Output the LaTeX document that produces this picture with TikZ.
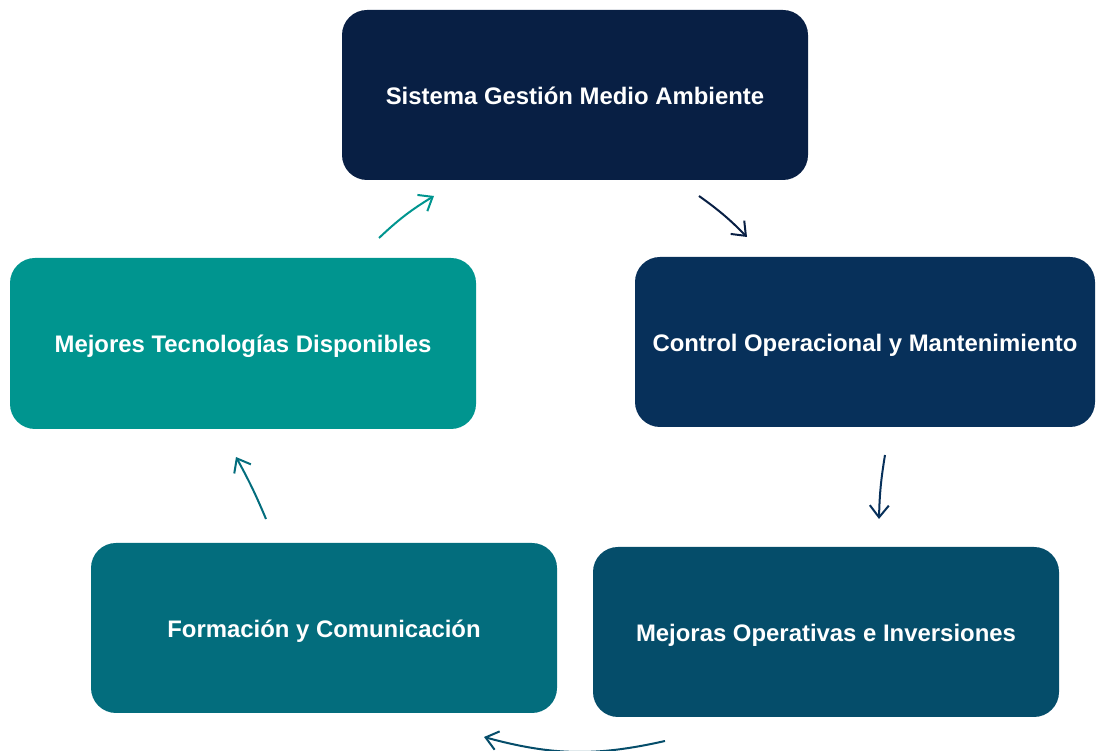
\documentclass[tikz,border=0pt]{standalone}
\usepackage{fontspec}
\setmainfont{Liberation Sans}
\usetikzlibrary{arrows.meta}
\definecolor{cTop}{HTML}{081F44}
\definecolor{cRight}{HTML}{07305A}
\definecolor{cBR}{HTML}{054D6A}
\definecolor{cBL}{HTML}{036D7D}
\definecolor{cLeft}{HTML}{00958F}
\tikzset{
  box/.style={rounded corners=25pt, minimum width=466pt, minimum height=170pt, inner sep=0pt,
    text height=20pt, text depth=1pt,
    text=white, font=\fontsize{23.9pt}{28pt}\selectfont\bfseries, anchor=center},
  flow/.style={line width=2pt, -{Straight Barb[length=12pt,width=19pt,line width=2pt]}}
}
\begin{document}
\begin{tikzpicture}[x=1pt,y=1pt]
\useasboundingbox (0,0) rectangle (1096,751);
\node[box, fill=cTop] (sgma) at (575,656) {Sistema Gestión Medio Ambiente};
\node[box, fill=cRight, minimum width=460pt] (com) at (865,409) {Control Operacional y Mantenimiento};
\node[box, fill=cBR] (moi) at (826,119) {Mejoras Operativas e Inversiones};
\node[box, fill=cBL] (fyc) at (324,123) {Formación y Comunicación};
\node[box, fill=cLeft, minimum height=171pt] (mtd) at (243,407.5) {Mejores Tecnologías Disponibles};
\coordinate (a1s) at (379,513); \coordinate (a1e) at (434,555);
\coordinate (a2s) at (699,555); \coordinate (a2e) at (747,514);
\coordinate (a3s) at (885,296); \coordinate (a3e) at (879,232);
\coordinate (a4s) at (665,10);  \coordinate (a4e) at (484,14);
\coordinate (a5s) at (266,232); \coordinate (a5e) at (236,294);
\draw[flow, cLeft] (a1s) to[bend left=6] (a1e);
\draw[flow, cTop] (a2s) to[bend left=5] (a2e);
\draw[flow, cRight] (a3s) to[bend right=4] (a3e);
\draw[flow, cBR] (a4s) to[bend left=14] (a4e);
\draw[flow, cBL] (a5s) to[bend right=3] (a5e);
\end{tikzpicture}
\end{document}
